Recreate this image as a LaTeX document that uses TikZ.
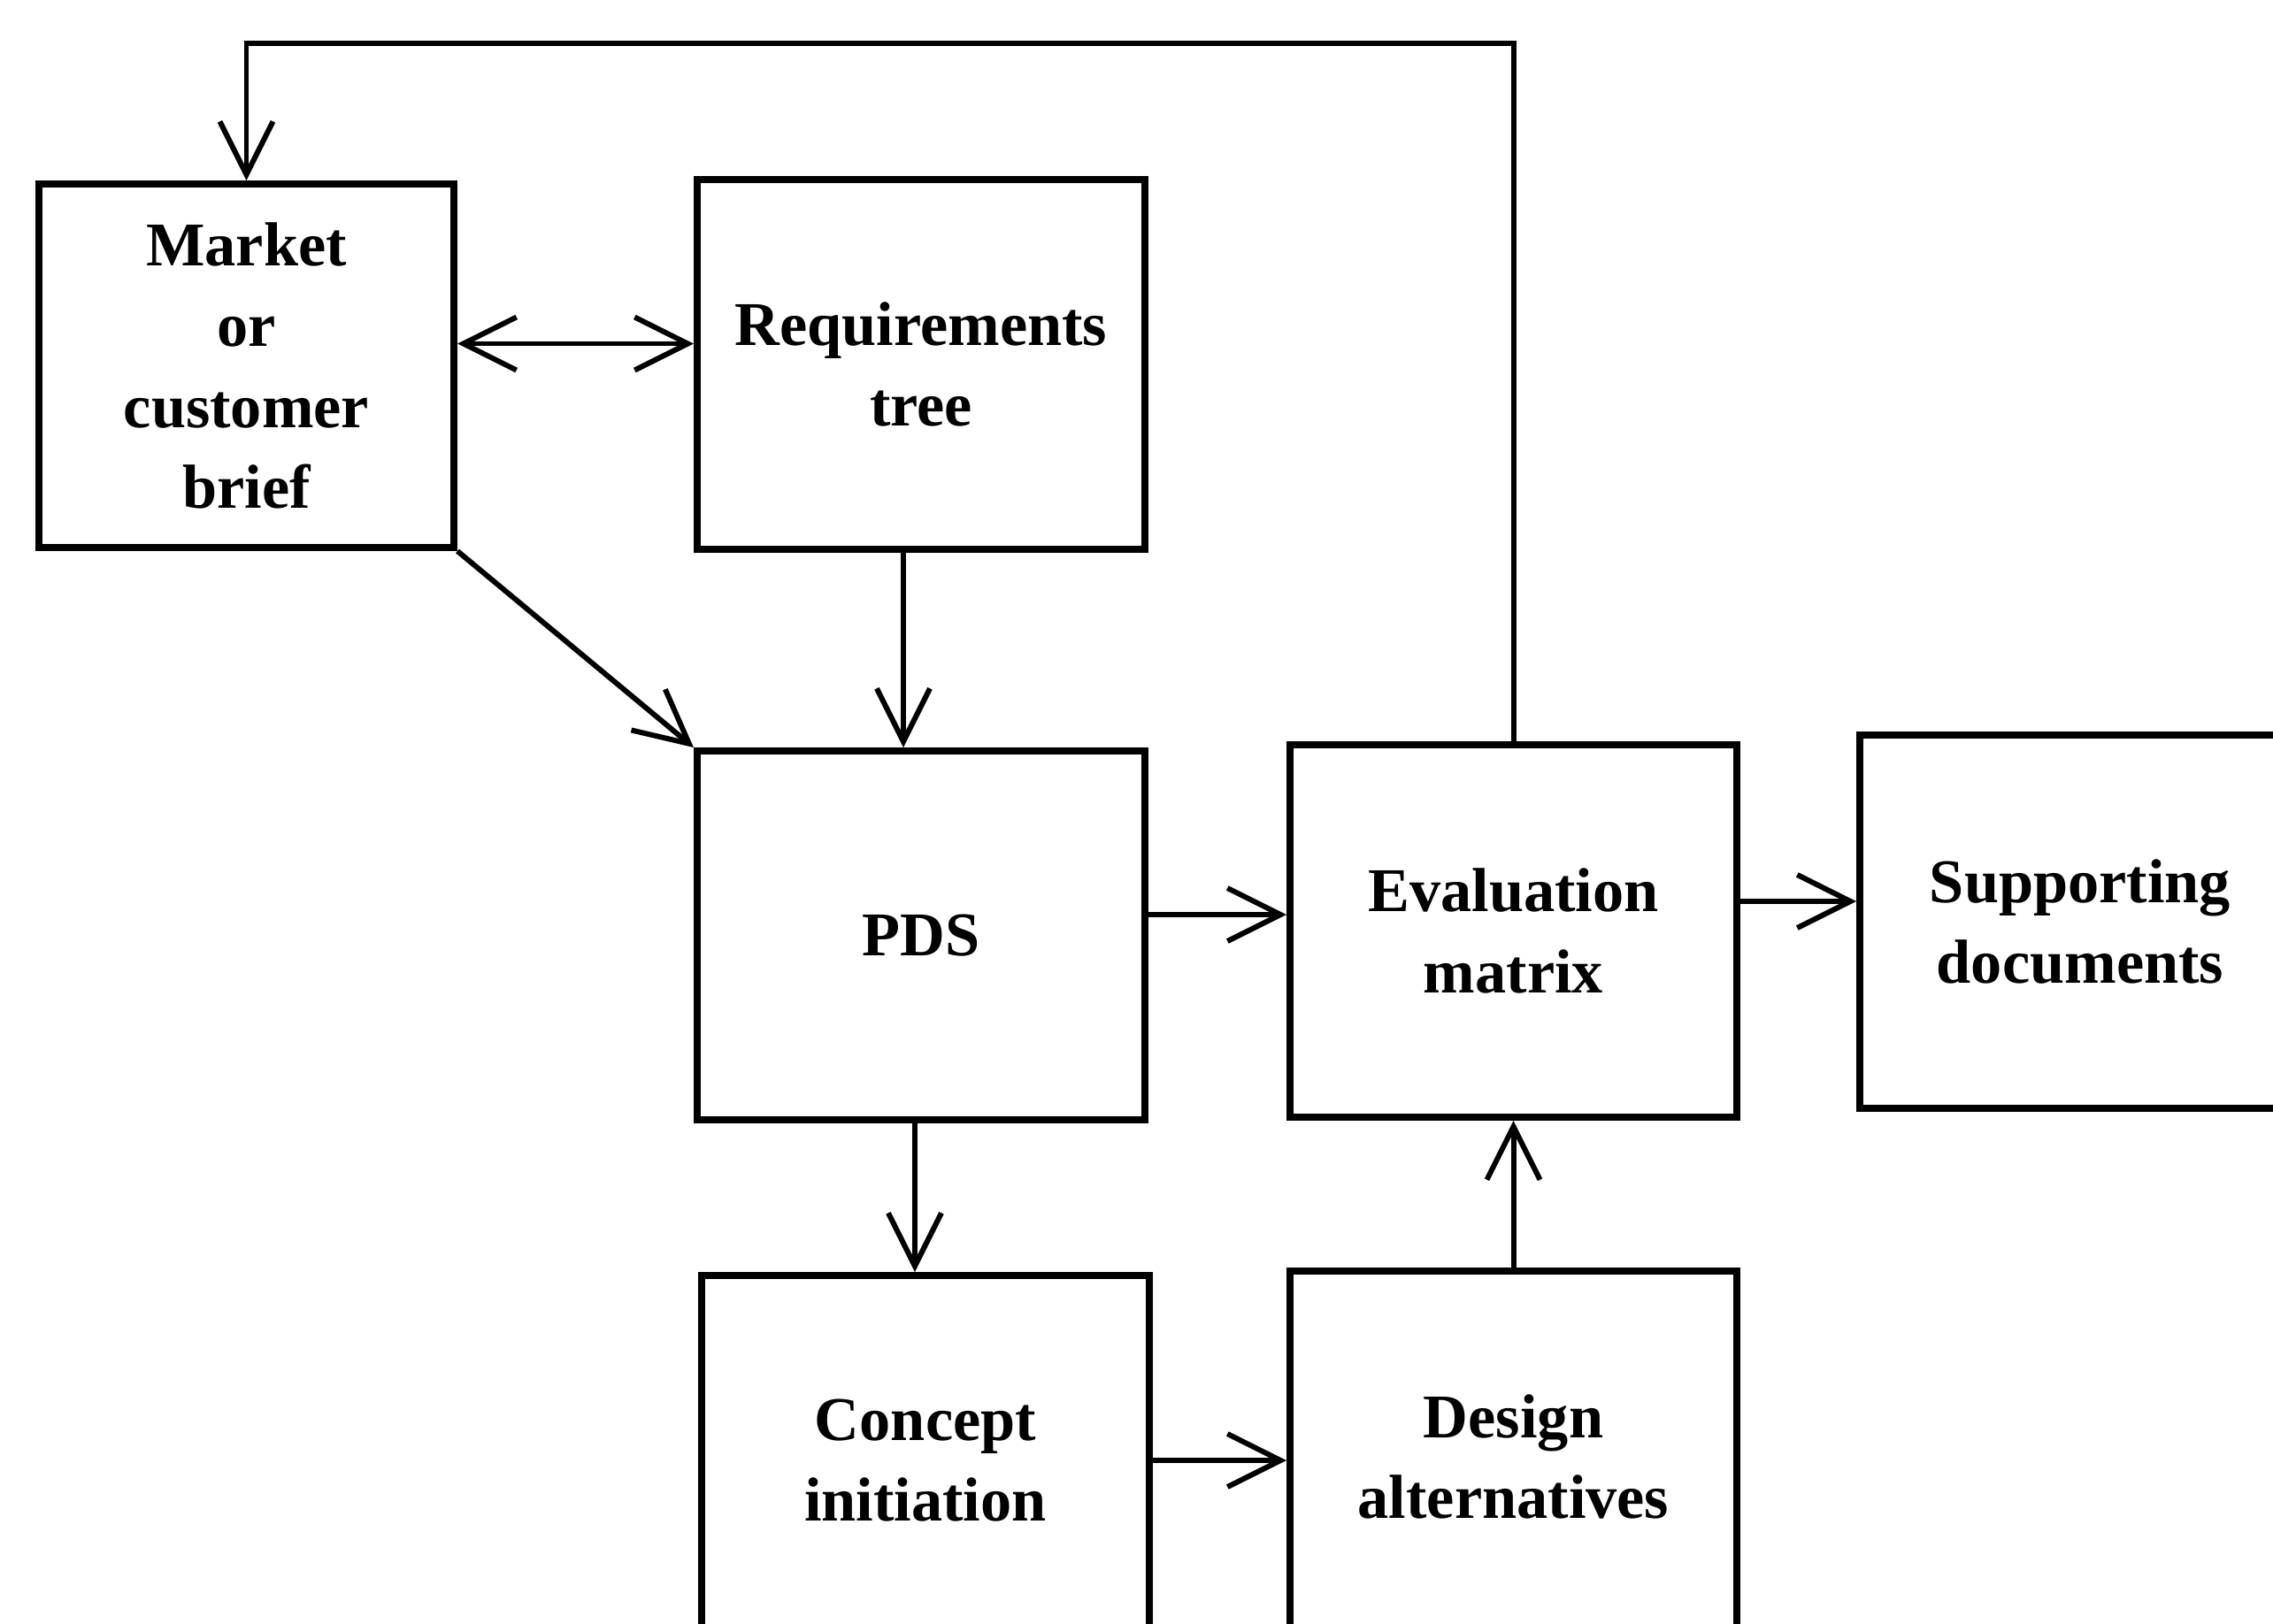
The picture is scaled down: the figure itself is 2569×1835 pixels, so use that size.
\documentclass[tikz,border=0pt]{standalone}
\usepackage{fontspec}
\setmainfont{Liberation Serif}
\usetikzlibrary{arrows.meta}
\begin{document}
\begin{tikzpicture}[x=0.01cm,y=-0.01cm,
  box/.style={draw,line width=2.2pt,inner sep=0pt,align=center,
    font=\fontsize{20}{26}\selectfont\bfseries},
  link/.style={line width=1.7pt,-{Straight Barb[length=6mm,width=6mm]}},
  twoway/.style={line width=1.7pt,{Straight Barb[length=6mm,width=6mm]}-{Straight Barb[length=6mm,width=6mm]}}]
\useasboundingbox (0,0) rectangle (2569,1835);
\clip (0,0) rectangle (2569,1835);

% boxes
\node[box,minimum width=4.69cm,minimum height=4.11cm] (market) at (278.5,413.5) {Market\\or\\customer\\brief};
\node[box,minimum width=5.06cm,minimum height=4.18cm] (req) at (1041,412) {Requirements\\tree};
\node[box,minimum width=5.06cm,minimum height=4.17cm] (pds) at (1041,1057.5) {PDS};
\node[box,minimum width=5.05cm,minimum height=4.21cm] (eval) at (1710.5,1052.5) {Evaluation\\matrix};
\node[box,minimum width=4.98cm,minimum height=4.22cm] (supp) at (2351,1042) {Supporting\\documents};
\node[box,minimum width=5.06cm,minimum height=4.18cm] (concept) at (1046,1651) {Concept\\initiation};
\node[box,minimum width=5.05cm,minimum height=4.20cm] (design) at (1710.5,1647) {Design\\alternatives};

% connector end points on box sides
\coordinate (fbtop) at (278.5,49);
\coordinate (mkR) at ([yshift=0.25cm]market.east);
\coordinate (pdsR) at ([yshift=0.235cm]pds.east);
\coordinate (evR) at ([yshift=0.335cm]eval.east);
\coordinate (reqB) at ([xshift=-0.2cm]req.south);
\coordinate (pdsB) at ([xshift=-0.07cm]pds.south);

% connectors
\draw[link] (eval.north) |- (fbtop) -- (market.north);
\draw[twoway] (mkR) -- (req.west |- mkR);
\draw[link] (market.south east) -- (pds.north west);
\draw[link] (reqB) -- (reqB |- pds.north);
\draw[link] (pdsR) -- (eval.west |- pdsR);
\draw[link] (evR) -- (supp.west |- evR);
\draw[link] (pdsB) -- (pdsB |- concept.north);
\draw[link] (concept.east) -- (design.west |- concept.east);
\draw[link] (design.north) -- (eval.south);
\end{tikzpicture}
\end{document}
